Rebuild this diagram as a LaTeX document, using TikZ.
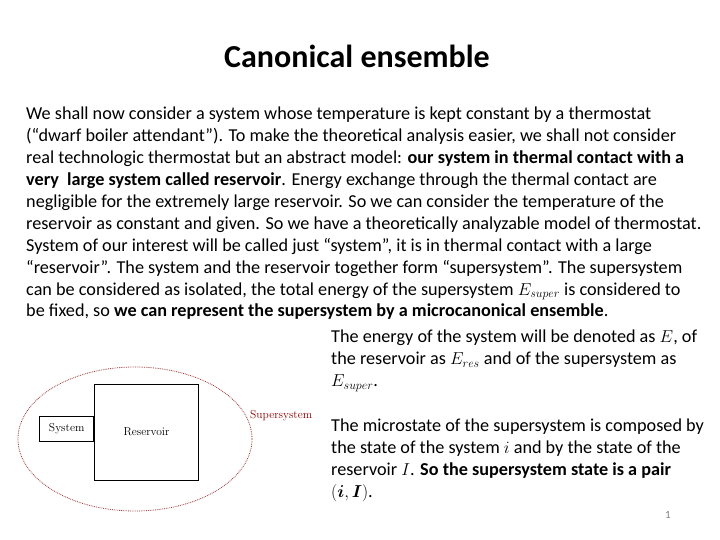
\documentclass[tikz,border=0pt]{standalone}
\usepackage{amsmath}
\usepackage{fontspec}
\setmainfont{Carlito}
\newfontfamily\lmfont{Latin Modern Roman}
\usetikzlibrary{positioning}
\begin{document}
\begin{tikzpicture}[x=1pt, y=-1pt,
	every node/.style={inner sep=0pt},
	slidetext/.style={font=\fontsize{18.2}{21.9}\selectfont, align=left, anchor=north west},
	box/.style={draw, thick, font=\fontsize{11.5}{13}\lmfont},
	]
	\useasboundingbox (0,0) rectangle (720,540);

	% Title
	\node[font=\fontsize{32}{38}\selectfont\bfseries] (title) at (357,56) {Canonical ensemble};

	% Main text
	\node[slidetext] (intro) at (26,107) {We shall now consider a system whose temperature is kept constant by a thermostat\\
(“dwarf boiler attendant”). To make the theoretical analysis easier, we shall not consider\\
real technologic thermostat but an abstract model: \textbf{our system in thermal contact with a}\\
\textbf{very\ \ large system called reservoir}. Energy exchange through the thermal contact are\\
negligible for the extremely large reservoir. So we can consider the temperature of the\\
reservoir as constant and given. So we have a theoretically analyzable model of thermostat.\\
System of our interest will be called just “system”, it is in thermal contact with a large\\
“reservoir”. The system and the reservoir together form “supersystem”. The supersystem\\
can be considered as isolated, the total energy of the supersystem $E_{super}$ is considered to\\
be fixed, so \textbf{we can represent the supersystem by a microcanonical ensemble}.};

	\node[slidetext] (energy) at (331,330) {The energy of the system will be denoted as $E$, of\\
the reservoir as $E_{res}$ and of the supersystem as\\
$E_{super}$.};
	\node[slidetext] (micro) at (331,419) {The microstate of the supersystem is composed by\\
the state of the system $i$ and by the state of the\\
reservoir $I$. \textbf{So the supersystem state is a pair}\\
$(\boldsymbol{i},\boldsymbol{I})$.};

	% Diagram
	\draw[red!50!black!80, densely dotted, thick] (135,439) ellipse [x radius=117, y radius=72];
	\node[box, minimum width=104, minimum height=96] (reservoir) at (146.5,432) {Reservoir};
	\node[box, minimum width=54, minimum height=25, left=0pt of reservoir, yshift=3.5pt] (system) {System};
	\node[font=\fontsize{11.5}{13}\lmfont, text=red!55!black, anchor=west] (super) at (250,416) {Supersystem};

	\node[font=\fontsize{11}{13}\selectfont, text=gray] (page) at (668,515) {1};
\end{tikzpicture}
\end{document}
